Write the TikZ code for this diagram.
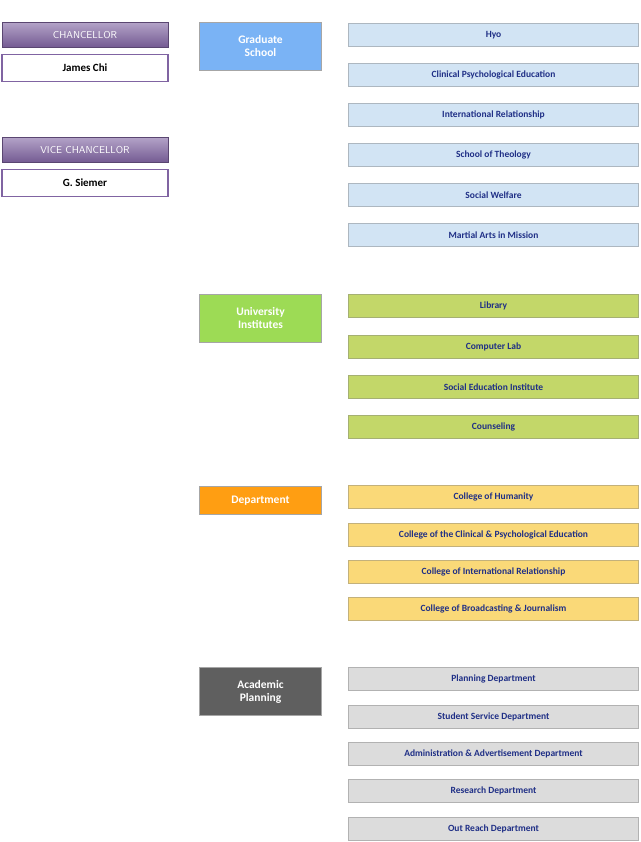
\documentclass[tikz,border=0pt]{standalone}
\usepackage{fontspec}
\setmainfont{Carlito}
\definecolor{navy}{HTML}{1F2F86}
\definecolor{purple1}{HTML}{8064A2}
\definecolor{lblue}{HTML}{D2E4F4}
\definecolor{lgreen}{HTML}{C3D769}
\definecolor{lyellow}{HTML}{FAD978}
\definecolor{lgray}{HTML}{DCDCDC}
\begin{document}
\begin{tikzpicture}[x=1pt,y=-1pt,
 rbox/.style={draw=#1!55!gray,line width=1.2pt,minimum width=290pt,minimum height=23pt,inner sep=0pt,font=\bfseries\fontsize{9.5}{10}\selectfont,text=navy},
 lbox/.style={draw=gray!70,line width=1.5pt,minimum width=122pt,inner sep=0pt,font=\bfseries\fontsize{11.5}{13}\selectfont,text=white,align=center},
 ttlbox/.style={draw=purple1!70!black,line width=1pt,top color=purple1!60,bottom color=purple1!90!black,minimum width=166pt,minimum height=25pt,inner sep=0pt,text=white,font=\sffamily\fontsize{10}{11}\selectfont},
 nmbox/.style={draw=purple1,fill=white,line width=1.8pt,minimum width=166pt,minimum height=27pt,inner sep=0pt,font=\bfseries\fontsize{11}{12}\selectfont}]
\useasboundingbox (0,0) rectangle (640,842);
\node[ttlbox] (t1) at (85,35) {CHANCELLOR};
\node[nmbox] (n1) at (85,68) {James Chi};
\node[ttlbox] (t2) at (85,150) {VICE CHANCELLOR};
\node[nmbox] (n2) at (85,183) {G. Siemer};
\node[lbox,fill={rgb,255:red,122;green,179;blue,245},minimum height=48pt] (g) at (260.5,46.5) {Graduate\\School};
\node[lbox,fill={rgb,255:red,157;green,219;blue,85},minimum height=48pt] (u) at (260.5,318.5) {University\\Institutes};
\node[lbox,fill={rgb,255:red,255;green,158;blue,18},minimum height=28pt] (d) at (260.5,500.5) {Department};
\node[lbox,fill={rgb,255:red,95;green,95;blue,95},minimum height=48pt] (a) at (260.5,691.5) {Academic\\Planning};
\foreach \y/\t [count=\i] in {35/Hyo,75/Clinical Psychological Education,115/International Relationship,155/School of Theology,195/Social Welfare,235/Martial Arts in Mission}
  \node[rbox=lblue,fill=lblue] (g\i) at (493.5,\y) {\t};
\foreach \y/\t [count=\i] in {306/Library,347/Computer Lab,387/Social Education Institute,427/Counseling}
  \node[rbox=lgreen,fill=lgreen] (u\i) at (493.5,\y) {\t};
\foreach \y/\t [count=\i] in {497/College of Humanity,535/College of the Clinical \& Psychological Education,572/College of International Relationship,609/College of Broadcasting \& Journalism}
  \node[rbox=lyellow,fill=lyellow] (d\i) at (493.5,\y) {\t};
\foreach \y/\t [count=\i] in {679/Planning Department,717/Student Service Department,754/Administration \& Advertisement Department,791/Research Department,829/Out Reach Department}
  \node[rbox=lgray,fill=lgray] (a\i) at (493.5,\y) {\t};
\end{tikzpicture}
\end{document}
